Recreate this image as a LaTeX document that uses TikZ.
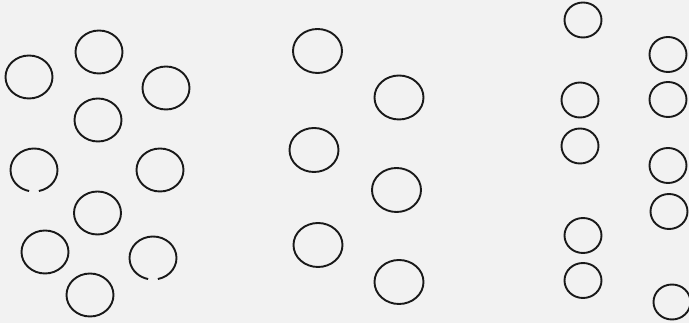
\documentclass[tikz,border=0pt]{standalone}
\begin{document}
\begin{tikzpicture}[x=1pt,y=-1pt,
  ring/.style={draw=black!90,line width=1.9pt},
  big/.style={x radius=23.5pt,y radius=21.5pt},
  small/.style={x radius=18.5pt,y radius=17.5pt}]
\fill[black!5] (0,0) rectangle (689,323);
\useasboundingbox (0,0) rectangle (689,323);
% left cluster
\foreach \cx/\cy in {29/77, 99/52, 166/88, 98/120, 160/170, 97.5/213, 45/252, 90/295}
  \draw[ring,big] (\cx,\cy) circle;
% circles with a gap at the bottom
\draw[ring] (34,170) ++(-78:23.5pt and 21.5pt) arc[start angle=-78,end angle=258,x radius=23.5pt,y radius=21.5pt];
\draw[ring] (153,258) ++(-78:23.5pt and 21.5pt) arc[start angle=-78,end angle=258,x radius=23.5pt,y radius=21.5pt];
% middle column
\foreach \cx/\cy in {317.5/51, 399/97.5, 314/150, 396.5/190, 318/245, 399/282}
  \draw[ring,x radius=24.5pt,y radius=22pt] (\cx,\cy) circle;
% right columns
\foreach \cx/\cy in {583/20, 668/54.5, 580/100, 668/99.5, 580/146, 668/165.5, 669/211.5, 583/235.5, 583/280.5, 672/302}
  \draw[ring,small] (\cx,\cy) circle;
\end{tikzpicture}
\end{document}
